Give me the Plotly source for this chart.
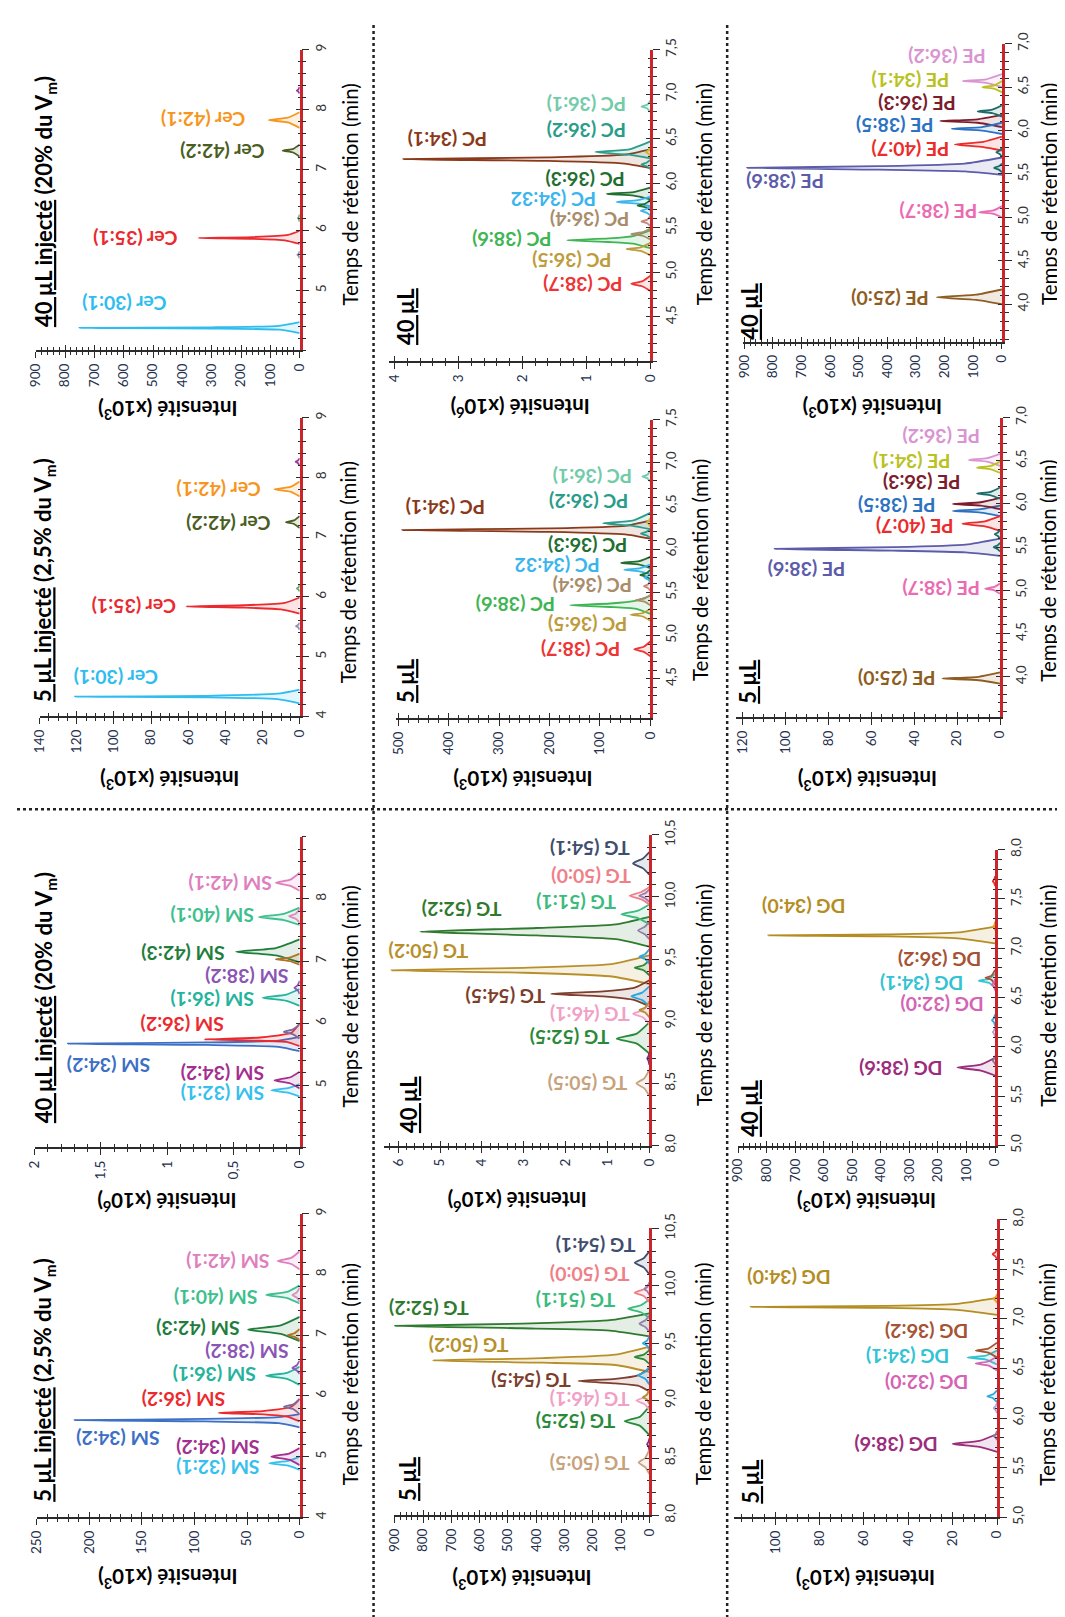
import plotly.graph_objects as go

W, H = 1065, 1617
FONT = "Lato"

# ============================ DATA ============================
# Each peak: retention times (min) and intensities; "" = unlabeled minor peak

# ---- Cer, 40 µL (x10^3)
CER40_NAMES = ["Cer (30:1)", "Cer (35:1)", "Cer (42:2)", "Cer (42:1)", "", "", ""]
CER40_T = [[4.29, 4.345, 4.365, 4.375, 4.385, 4.41, 4.47], [5.77, 5.83, 5.855, 5.87, 5.885, 5.92, 5.99],
           [7.22, 7.29, 7.32, 7.35, 7.42], [7.70, 7.79, 7.83, 7.87, 7.96], [8.27, 8.30, 8.32, 8.34, 8.38],
           [5.53, 5.57, 5.59, 5.61, 5.65], [6.14, 6.18, 6.20, 6.22, 6.26]]
CER40_I = [[0, 70, 300, 751, 300, 70, 0], [0, 50, 160, 345, 160, 40, 0], [0, 22, 58, 22, 0],
           [0, 40, 106, 40, 0], [0, 4, 10, 4, 0], [0, 3, 8, 3, 0], [0, 2.5, 6, 2.5, 0]]

# ---- Cer, 5 µL (x10^3)
CER5_NAMES = ["Cer (30:1)", "Cer (35:1)", "Cer (42:2)", "Cer (42:1)", "", "", ""]
CER5_T = [[4.22, 4.29, 4.32, 4.33, 4.345, 4.38, 4.45], [5.72, 5.79, 5.82, 5.84, 5.86, 5.90, 5.99],
          [7.15, 7.22, 7.25, 7.28, 7.35], [7.68, 7.76, 7.80, 7.84, 7.93], [8.20, 8.24, 8.26, 8.28, 8.32],
          [5.45, 5.49, 5.51, 5.53, 5.57], [6.09, 6.12, 6.14, 6.16, 6.20]]
CER5_I = [[0, 12, 50, 121, 50, 12, 0], [0, 10, 30, 61, 30, 8, 0], [0, 3, 7.4, 3, 0],
          [0, 5, 13.6, 5, 0], [0, 1, 2.2, 1, 0], [0, 0.8, 2, 0.8, 0], [0, 0.6, 1.5, 0.6, 0]]

# ---- SM, 40 µL (x10^6)
SM40_NAMES = ["SM (32:1)", "SM (34:2)", "SM (34:2)", "SM (36:2)", "", "SM (36:1)", "SM (38:2)", "",
              "SM (42:3)", "", "SM (40:1)", "SM (42:1)"]
SM40_T = [[4.82, 4.88, 4.92, 4.96, 5.02], [4.95, 5.03, 5.08, 5.13, 5.22],
          [5.55, 5.62, 5.65, 5.67, 5.69, 5.72, 5.78], [5.63, 5.70, 5.72, 5.74, 5.77, 5.85, 6.00],
          [5.75, 5.82, 5.86, 5.90, 5.98], [6.28, 6.36, 6.41, 6.46, 6.55], [6.47, 6.53, 6.57, 6.61, 6.68],
          [6.94, 7.00, 7.03, 7.06, 7.12], [6.98, 7.09, 7.15, 7.21, 7.35], [7.62, 7.68, 7.72, 7.76, 7.84],
          [7.58, 7.66, 7.71, 7.76, 7.86], [8.13, 8.21, 8.26, 8.31, 8.42]]
SM40_I = [[0, 0.08, 0.215, 0.08, 0], [0, 0.07, 0.19, 0.07, 0], [0, 0.16, 0.7, 1.75, 0.7, 0.16, 0],
          [0, 0.1, 0.35, 0.72, 0.3, 0.06, 0], [0, 0.05, 0.12, 0.05, 0], [0, 0.1, 0.28, 0.1, 0],
          [0, 0.015, 0.04, 0.015, 0], [0, 0.07, 0.18, 0.07, 0], [0, 0.18, 0.48, 0.18, 0],
          [0, 0.03, 0.08, 0.03, 0], [0, 0.12, 0.31, 0.12, 0], [0, 0.07, 0.18, 0.07, 0]]

# ---- SM, 5 µL (x10^3)
SM5_NAMES = SM40_NAMES
SM5_T = [[4.78, 4.85, 4.89, 4.93, 5.00], [4.86, 4.95, 5.00, 5.05, 5.14],
         [5.48, 5.55, 5.58, 5.60, 5.62, 5.65, 5.70], [5.58, 5.66, 5.70, 5.72, 5.75, 5.82, 5.95],
         [5.70, 5.78, 5.82, 5.86, 5.95], [6.18, 6.28, 6.33, 6.38, 6.48], [6.36, 6.42, 6.46, 6.50, 6.58],
         [6.92, 6.97, 7.00, 7.03, 7.10], [6.90, 7.02, 7.09, 7.16, 7.30], [7.55, 7.62, 7.66, 7.70, 7.78],
         [7.52, 7.61, 7.66, 7.71, 7.82], [8.08, 8.17, 8.22, 8.27, 8.38]]
SM5_I = [[0, 11, 29, 11, 0], [0, 10, 27, 10, 0], [0, 20, 90, 214, 90, 20, 0], [0, 12, 40, 77, 35, 8, 0],
         [0, 6, 15, 6, 0], [0, 12, 32, 12, 0], [0, 3, 7, 3, 0], [0, 5, 11.5, 5, 0], [0, 18, 49, 18, 0],
         [0, 3, 7, 3, 0], [0, 12, 32, 12, 0], [0, 8, 21, 8, 0]]

# ---- PC, 40 µL (x10^6)
PC40_NAMES = ["PC (38:7)", "PC (36:5)", "PC (38:6)", "PC (36:4)", "", "PC (34:32", "", "PC (36:3)", "",
              "PC (34:1)", "PC (36:2)", "", "", "PC (36:1)"]
PC40_T = [[4.79, 4.84, 4.87, 4.90, 4.96], [5.19, 5.24, 5.26, 5.28, 5.33],
          [5.27, 5.32, 5.34, 5.36, 5.38, 5.41, 5.47], [5.37, 5.41, 5.43, 5.45, 5.49],
          [5.52, 5.55, 5.57, 5.59, 5.63], [5.74, 5.77, 5.79, 5.81, 5.85], [5.64, 5.67, 5.69, 5.71, 5.74],
          [5.82, 5.86, 5.88, 5.90, 5.95], [5.70, 5.73, 5.75, 5.77, 5.81],
          [6.17, 6.22, 6.25, 6.27, 6.29, 6.32, 6.38], [6.28, 6.32, 6.35, 6.38, 6.47],
          [6.16, 6.19, 6.21, 6.23, 6.26], [6.31, 6.33, 6.35, 6.37, 6.40], [6.80, 6.84, 6.86, 6.88, 6.93]]
PC40_I = [[0, 0.12, 0.30, 0.12, 0], [0, 0.15, 0.375, 0.15, 0], [0, 0.25, 0.65, 1.30, 0.65, 0.25, 0],
          [0, 0.12, 0.30, 0.12, 0], [0, 0.05, 0.14, 0.05, 0], [0, 0.2, 0.53, 0.2, 0],
          [0, 0.06, 0.15, 0.06, 0], [0, 0.26, 0.68, 0.26, 0], [0, 0.08, 0.2, 0.08, 0],
          [0, 0.4, 1.6, 3.86, 1.6, 0.4, 0], [0, 0.33, 0.86, 0.33, 0], [0, 0.06, 0.14, 0.06, 0],
          [0, 0.03, 0.07, 0.03, 0], [0, 0.05, 0.14, 0.05, 0]]

# ---- PC, 5 µL (x10^3)
PC5_NAMES = PC40_NAMES
PC5_T = [[4.76, 4.81, 4.84, 4.87, 4.93], [5.17, 5.22, 5.24, 5.26, 5.31],
         [5.25, 5.31, 5.33, 5.35, 5.37, 5.40, 5.46], [5.35, 5.39, 5.41, 5.43, 5.47],
         [5.52, 5.55, 5.57, 5.59, 5.63], [5.71, 5.74, 5.76, 5.78, 5.82], [5.62, 5.65, 5.67, 5.69, 5.72],
         [5.78, 5.82, 5.84, 5.86, 5.91], [5.65, 5.68, 5.70, 5.72, 5.76],
         [6.12, 6.17, 6.20, 6.22, 6.24, 6.27, 6.33], [6.23, 6.27, 6.30, 6.33, 6.42],
         [6.13, 6.16, 6.18, 6.20, 6.23], [6.26, 6.29, 6.31, 6.33, 6.36], [6.78, 6.82, 6.84, 6.86, 6.91]]
PC5_I = [[0, 13, 32, 13, 0], [0, 15, 39, 15, 0], [0, 30, 80, 159, 80, 30, 0], [0, 11, 29, 11, 0],
         [0, 5, 13, 5, 0], [0, 20, 52, 20, 0], [0, 5, 12, 5, 0], [0, 22, 58, 22, 0], [0, 8, 20, 8, 0],
         [0, 50, 200, 492, 200, 50, 0], [0, 35, 94, 35, 0], [0, 8, 19, 8, 0], [0, 3, 7, 3, 0],
         [0, 6, 16, 6, 0]]

# ---- TG, 40 µL (x10^6)
TG40_NAMES = ["TG (50:5)", "", "TG (52:5)", "TG (46:1)", "", "TG (54:5)", "", "TG (50:2)", "", "",
              "TG (52:2)", "", "TG (51:1)", "TG (50:0)", "", "TG (54:1)"]
TG40_T = [[8.40, 8.46, 8.50, 8.54, 8.61], [8.65, 8.68, 8.70, 8.72, 8.75], [8.74, 8.82, 8.86, 8.90, 8.99],
          [8.98, 9.03, 9.06, 9.09, 9.14], [9.03, 9.07, 9.09, 9.11, 9.16],
          [9.12, 9.17, 9.20, 9.22, 9.24, 9.27, 9.33], [9.12, 9.17, 9.20, 9.23, 9.28],
          [9.30, 9.36, 9.39, 9.41, 9.43, 9.46, 9.53], [9.37, 9.41, 9.43, 9.45, 9.49],
          [9.46, 9.50, 9.52, 9.54, 9.58], [9.60, 9.66, 9.69, 9.72, 9.75, 9.78, 9.84],
          [9.66, 9.70, 9.73, 9.76, 9.80], [9.78, 9.83, 9.86, 9.89, 9.94], [9.94, 9.98, 10.01, 10.04, 10.08],
          [9.96, 9.99, 10.01, 10.03, 10.06], [10.18, 10.23, 10.27, 10.31, 10.36]]
TG40_I = [[0, 0.12, 0.31, 0.12, 0], [0, 0.02, 0.05, 0.02, 0], [0, 0.3, 0.78, 0.3, 0],
          [0, 0.15, 0.39, 0.15, 0], [0, 0.1, 0.24, 0.1, 0], [0, 0.35, 1.1, 2.35, 1.1, 0.35, 0],
          [0, 0.17, 0.43, 0.17, 0], [0, 0.9, 3.0, 6.16, 3.0, 0.9, 0], [0, 0.14, 0.35, 0.14, 0],
          [0, 0.1, 0.24, 0.1, 0], [0, 0.8, 2.7, 5.47, 2.7, 0.8, 0], [0, 0.11, 0.27, 0.11, 0],
          [0, 0.27, 0.67, 0.27, 0], [0, 0.19, 0.47, 0.19, 0], [0, 0.1, 0.24, 0.1, 0],
          [0, 0.15, 0.39, 0.15, 0]]

# ---- TG, 5 µL (x10^3)
TG5_NAMES = TG40_NAMES
TG5_T = [[8.36, 8.42, 8.46, 8.50, 8.57], [8.57, 8.60, 8.62, 8.64, 8.67], [8.70, 8.78, 8.82, 8.86, 8.95],
         [8.92, 8.97, 9.00, 9.03, 9.08], [8.97, 9.01, 9.03, 9.05, 9.10],
         [9.08, 9.13, 9.15, 9.17, 9.19, 9.22, 9.28], [9.14, 9.19, 9.22, 9.25, 9.30],
         [9.25, 9.31, 9.33, 9.35, 9.37, 9.40, 9.47], [9.32, 9.36, 9.38, 9.40, 9.44],
         [9.44, 9.48, 9.50, 9.52, 9.56], [9.56, 9.61, 9.63, 9.65, 9.67, 9.70, 9.76],
         [9.60, 9.64, 9.67, 9.70, 9.74], [9.72, 9.77, 9.80, 9.83, 9.88], [9.86, 9.91, 9.94, 9.97, 10.02],
         [9.92, 9.95, 9.97, 9.99, 10.03], [10.10, 10.16, 10.20, 10.24, 10.30]]
TG5_I = [[0, 15, 38, 15, 0], [0, 3, 8, 3, 0], [0, 33, 87, 33, 0], [0, 18, 46, 18, 0], [0, 9, 23, 9, 0],
         [0, 40, 120, 251, 120, 40, 0], [0, 15, 40, 15, 0], [0, 120, 380, 765, 380, 120, 0],
         [0, 20, 52, 20, 0], [0, 9, 23, 9, 0], [0, 140, 450, 900, 450, 140, 0], [0, 14, 35, 14, 0],
         [0, 30, 75, 30, 0], [0, 20, 52, 20, 0], [0, 7, 17, 7, 0], [0, 20, 52, 20, 0]]

# ---- PE, 40 µL (x10^3)
PE40_NAMES = ["PE (25:0)", "PE (38:7)", "PE (38:6)", "", "", "PE (40:7)", "PE (38:5)", "PE (36:3)", "",
              "PE (34:1)", "PE (36:2)"]
PE40_T = [[4.00, 4.05, 4.08, 4.11, 4.17], [5.00, 5.04, 5.06, 5.08, 5.13],
          [5.49, 5.53, 5.55, 5.57, 5.59, 5.62, 5.69], [5.52, 5.55, 5.57, 5.59, 5.62],
          [5.70, 5.73, 5.75, 5.77, 5.80], [5.77, 5.81, 5.84, 5.87, 5.93], [5.96, 6.00, 6.02, 6.04, 6.09],
          [6.04, 6.09, 6.11, 6.13, 6.18], [6.16, 6.20, 6.22, 6.24, 6.29], [6.44, 6.48, 6.50, 6.52, 6.57],
          [6.50, 6.55, 6.57, 6.59, 6.65]]
PE40_I = [[0, 90, 228, 90, 0], [0, 30, 80, 30, 0], [0, 130, 430, 890, 430, 130, 0], [0, 11, 28, 11, 0],
          [0, 8, 20, 8, 0], [0, 65, 165, 65, 0], [0, 70, 176, 70, 0], [0, 85, 216, 85, 0],
          [0, 34, 85, 34, 0], [0, 27, 68, 27, 0], [0, 55, 137, 55, 0]]

# ---- PE, 5 µL (x10^3)
PE5_NAMES = PE40_NAMES
PE5_T = [[3.92, 3.96, 3.98, 4.00, 4.05], [4.96, 5.00, 5.02, 5.04, 5.08],
         [5.40, 5.44, 5.46, 5.48, 5.50, 5.53, 5.60], [5.45, 5.48, 5.50, 5.52, 5.55],
         [5.60, 5.63, 5.65, 5.67, 5.70], [5.69, 5.74, 5.77, 5.80, 5.86], [5.86, 5.90, 5.92, 5.94, 5.98],
         [5.94, 5.98, 6.00, 6.02, 6.07], [6.06, 6.10, 6.12, 6.14, 6.19], [6.36, 6.40, 6.42, 6.44, 6.49],
         [6.44, 6.49, 6.51, 6.53, 6.58]]
PE5_I = [[0, 10, 26.8, 10, 0], [0, 2.7, 6.9, 2.7, 0], [0, 16, 50, 105, 50, 16, 0], [0, 1.2, 3, 1.2, 0],
         [0, 1, 2.5, 1, 0], [0, 7, 17.6, 7, 0], [0, 9, 22, 9, 0], [0, 9, 22, 9, 0],
         [0, 4.3, 10.7, 4.3, 0], [0, 4.3, 10.7, 4.3, 0], [0, 6, 14.5, 6, 0]]

# ---- DG, 40 µL (x10^3)
DG40_NAMES = ["DG (38:6)", "", "", "", "DG (32:0)", "DG (34:1)", "DG (36:2)", "DG (34:0)", "", ""]
DG40_T = [[5.71, 5.76, 5.79, 5.82, 5.89], [5.82, 5.84, 5.86, 5.88, 5.91], [6.10, 6.13, 6.15, 6.17, 6.21],
          [6.21, 6.25, 6.27, 6.29, 6.33], [6.57, 6.61, 6.63, 6.65, 6.69], [6.60, 6.65, 6.67, 6.69, 6.74],
          [6.63, 6.68, 6.70, 6.72, 6.78], [7.05, 7.10, 7.12, 7.13, 7.14, 7.16, 7.22],
          [7.63, 7.66, 7.68, 7.70, 7.73], [7.18, 7.20, 7.22, 7.24, 7.27]]
DG40_I = [[0, 50, 132, 50, 0], [0, 3, 8, 3, 0], [0, 3, 8, 3, 0], [0, 4, 11, 4, 0], [0, 4, 11, 4, 0],
          [0, 22, 57, 22, 0], [0, 13, 34, 13, 0], [0, 130, 380, 794, 380, 130, 0], [0, 3, 8, 3, 0],
          [0, 2, 6, 2, 0]]

# ---- DG, 5 µL (x10^3)
DG5_NAMES = DG40_NAMES
DG5_T = [[5.66, 5.71, 5.74, 5.77, 5.84], [5.78, 5.80, 5.82, 5.84, 5.87], [6.05, 6.08, 6.10, 6.12, 6.16],
         [6.16, 6.20, 6.22, 6.24, 6.28], [6.48, 6.53, 6.55, 6.57, 6.62], [6.54, 6.59, 6.61, 6.63, 6.68],
         [6.61, 6.66, 6.68, 6.70, 6.76], [7.04, 7.09, 7.11, 7.12, 7.13, 7.15, 7.21],
         [7.60, 7.63, 7.65, 7.67, 7.70], [7.16, 7.18, 7.20, 7.22, 7.25]]
DG5_I = [[0, 8, 20, 8, 0], [0, 0.6, 1.5, 0.6, 0], [0, 0.6, 1.5, 0.6, 0], [0, 1.8, 4.4, 1.8, 0],
         [0, 4, 9.6, 4, 0], [0, 5, 13.3, 5, 0], [0, 4, 9.6, 4, 0], [0, 18, 50, 111, 50, 18, 0],
         [0, 0.8, 2, 0.8, 0], [0, 0.6, 1.5, 0.6, 0]]

# ---- axis ranges and tick labels
RANGES = {  # (intensity max, t min, t max)
    "CER40": (900, 4.0, 9.0), "CER5": (140, 4.0, 9.0), "SM40": (2, 4.0, 9.0), "SM5": (250, 4.0, 9.0),
    "PC40": (4.08, 4.0, 7.5), "PC5": (504, 4.04, 7.5), "TG40": (6.33, 8.0, 10.5), "TG5": (902, 8.0, 10.5),
    "PE40": (905, 3.57, 7.0), "PE5": (123, 3.53, 7.0), "DG40": (900, 5.0, 8.0), "DG5": (118.5, 5.0, 8.0),
}
I900 = ([0, 100, 200, 300, 400, 500, 600, 700, 800, 900],
        ["0", "100", "200", "300", "400", "500", "600", "700", "800", "900"])
ITICKS = {
    "CER40": I900,
    "CER5": ([0, 20, 40, 60, 80, 100, 120, 140], ["0", "20", "40", "60", "80", "100", "120", "140"]),
    "SM40": ([0, 0.5, 1, 1.5, 2], ["0", "0,5", "1", "1,5", "2"]),
    "SM5": ([0, 50, 100, 150, 200, 250], ["0", "50", "100", "150", "200", "250"]),
    "PC40": ([0, 1, 2, 3, 4], ["0", "1", "2", "3", "4"]),
    "PC5": ([0, 100, 200, 300, 400, 500], ["0", "100", "200", "300", "400", "500"]),
    "TG40": ([0, 1, 2, 3, 4, 5, 6], ["0", "1", "2", "3", "4", "5", "6"]),
    "TG5": I900, "PE40": I900,
    "PE5": ([0, 20, 40, 60, 80, 100, 120], ["0", "20", "40", "60", "80", "100", "120"]),
    "DG40": I900,
    "DG5": ([0, 20, 40, 60, 80, 100], ["0", "20", "40", "60", "80", "100"]),
}
TTICKS = {
    "CER40": ([5, 6, 7, 8, 9], ["5", "6", "7", "8", "9"]),
    "CER5": ([4, 5, 6, 7, 8, 9], ["4", "5", "6", "7", "8", "9"]),
    "SM40": ([5, 6, 7, 8], ["5", "6", "7", "8"]),
    "SM5": ([4, 5, 6, 7, 8, 9], ["4", "5", "6", "7", "8", "9"]),
    "PC40": ([4.5, 5, 5.5, 6, 6.5, 7, 7.5], ["4,5", "5,0", "5,5", "6,0", "6,5", "7,0", "7,5"]),
    "PC5": ([4.5, 5, 5.5, 6, 6.5, 7, 7.5], ["4,5", "5,0", "5,5", "6,0", "6,5", "7,0", "7,5"]),
    "TG40": ([8, 8.5, 9, 9.5, 10, 10.5], ["8,0", "8,5", "9,0", "9,5", "10,0", "10,5"]),
    "TG5": ([8, 8.5, 9, 9.5, 10, 10.5], ["8,0", "8,5", "9,0", "9,5", "10,0", "10,5"]),
    "PE40": ([4, 4.5, 5, 5.5, 6, 6.5, 7], ["4,0", "4,5", "5,0", "5,5", "6,0", "6,5", "7,0"]),
    "PE5": ([4, 4.5, 5, 5.5, 6, 6.5, 7], ["4,0", "4,5", "5,0", "5,5", "6,0", "6,5", "7,0"]),
    "DG40": ([5, 5.5, 6, 6.5, 7, 7.5, 8], ["5,0", "5,5", "6,0", "6,5", "7,0", "7,5", "8,0"]),
    "DG5": ([5, 5.5, 6, 6.5, 7, 7.5, 8], ["5,0", "5,5", "6,0", "6,5", "7,0", "7,5", "8,0"]),
}
UNITS = {"CER40": "3", "CER5": "3", "SM40": "6", "SM5": "3", "PC40": "6", "PC5": "3",
         "TG40": "6", "TG5": "3", "PE40": "3", "PE5": "3", "DG40": "3", "DG5": "3"}
TITLES = {
    "CER40": "<u>40 µL injecté</u> (20% du V<sub>m</sub>)", "CER5": "<u>5 µL injecté</u> (2,5% du V<sub>m</sub>)",
    "SM40": "<u>40 µL injecté</u> (20% du V<sub>m</sub>)", "SM5": "<u>5 µL injecté</u> (2,5% du V<sub>m</sub>)",
    "PC40": "<u>40 µL</u>", "PC5": "<u>5 µL</u>", "TG40": "<u>40 µL</u>", "TG5": "<u>5 µL</u>",
    "PE40": "<u>40 µL</u>", "PE5": "<u>5 µL</u>", "DG40": "<u>40 µL</u>", "DG5": "<u>5 µL</u>",
}

# ============================ STYLE / PLACEMENT ============================
SM_COL = ['#36c0ee', '#a3308f', '#3d6fc5', '#ec2a2e', '#7d6a9c', '#24b39c', '#8b55b5', '#b07328',
          '#1f7e3c', '#e08ac0', '#3ec08e', '#e07fbd']
CER_COL = ['#2fbdef', '#ea2a2f', '#4b5e22', '#f7961e', '#9b3a9b', '#9090b0', '#6aaa6a']
PC_COL = ['#ee3434', '#bd9c3c', '#3fb554', '#a98c6a', '#c8887a', '#3bb5ec', '#3bb5ec', '#1f6f31',
          '#1f6f31', '#8a3a1a', '#2a9c8a', '#2a9c8a', '#d4b32e', '#72cba9']
TG_COL = ['#c8a27c', '#7b2d8b', '#2a8a3a', '#f2a0c6', '#b5922f', '#7d3e2c', '#2aa6e0', '#b8902a',
          '#2a8a3a', '#2aa6e0', '#2f7a2f', '#8f80ad', '#3bbb7d', '#ef8088', '#9c7cb2', '#3f4e6e']
PE_COL = ['#8d5d22', '#eb6bb3', '#5c5caa', '#1d6c6c', '#1d6c6c', '#ec2b2b', '#2c72c2', '#7c1c2c',
          '#1d6c6c', '#b9c222', '#da94d2']
DG_COL = ['#9c2c7c', '#8a7a9a', '#b0a4d4', '#30a8e0', '#d464b4', '#33c3d3', '#a55333', '#b38d22',
          '#ee3030', '#f0a020']

# label anchor (time, intensity) of the screen-right edge of each label
LABEL_AT = {
    "CER40": [(4.77, 448), (5.87, 409), (7.31, 114), (7.83, 179), None, None, None],
    "CER5": [(4.66, 75.5), (5.83, 65.8), (7.24, 14.5), (7.80, 19.8), None, None, None],
    "SM40": [(4.87, 0.25), (5.19, 0.25), (5.33, 1.11), (5.98, 0.56), None, (6.38, 0.33), (6.74, 0.067),
             None, (7.12, 0.55), None, (7.73, 0.33), (8.24, 0.19)],
    "SM5": [(4.81, 36.5), (5.16, 36.5), (5.30, 131.5), (5.95, 69), None, (6.36, 39.6), (6.74, 8.4),
            None, (7.11, 55), None, (7.63, 38), (8.22, 27)],
    "PC40": [(4.87, 0.40), (5.14, 0.58), (5.36, 1.51), (5.59, 0.30), None, (5.81, 0.81), None,
             (6.05, 0.375), None, (6.49, 2.53), (6.60, 0.35), None, None, (6.89, 0.35)],
    "PC5": [(4.84, 55), (5.13, 42), (5.36, 185), (5.58, 32.5), None, (5.81, 97), None, (6.04, 42), None,
            (6.49, 325), (6.55, 39), None, None, (6.84, 32.5)],
    "TG40": [(8.50, 0.47), None, (8.87, 0.90), (9.05, 0.43), None, (9.20, 2.43), None, (9.56, 4.27),
             None, None, (9.90, 3.49), None, (9.96, 0.75), (10.16, 0.39), None, (10.39, 0.43)],
    "TG5": [(8.45, 64), None, (8.82, 112), (9.01, 64), None, (9.17, 272), None, (9.48, 492), None, None,
            (9.80, 631), None, (9.87, 112), (10.10, 64), None, (10.35, 43)],
    "PE40": [(4.06, 250), (5.06, 80), (5.42, 615), None, None, (5.78, 176), (6.06, 233), (6.31, 154),
             None, (6.57, 176), (6.86, 51)],
    "PE5": [(3.98, 29), (5.02, 8.4), (5.25, 71), None, None, (5.74, 20.6), (5.99, 29), (6.25, 17.6),
            None, (6.50, 22), (6.78, 8.4)],
    "DG40": [(5.78, 178), None, None, None, (6.43, 34), (6.65, 103), (6.88, 40), (7.43, 516), None, None],
    "DG5": [(5.74, 26), None, None, None, (6.36, 11.9), (6.62, 20.7), (6.87, 11.9), (7.41, 74), None, None],
}

# panel frame in pixels: intensity-max x, zero x, t-min y, t-max y
GEOM = {
    "CER40": (19, 287, 332, 27), "CER5": (23, 287, 703, 400),
    "SM40": (18, 287, 1140, 825), "SM5": (20, 287, 1515, 1207),
    "PC40": (378, 643, 343, 27), "PC5": (385, 643, 705, 402),
    "TG40": (373, 642, 1138, 823), "TG5": (383, 642, 1513, 1222),
    "PE40": (737, 1000, 323, 21), "PE5": (730, 998, 704, 400),
    "DG40": (732, 993, 1138, 838), "DG5": (728, 995, 1515, 1213),
}
MINOR = {"CER40": (20, 0.2), "CER5": (5, 0.2), "SM40": (0.1, 0.2), "SM5": (10, 0.2),
         "PC40": (0.2, 0.1), "PC5": (20, 0.1), "TG40": (0.2, 0.1), "TG5": (20, 0.1),
         "PE40": (20, 0.1), "PE5": (5, 0.1), "DG40": (20, 0.1), "DG5": (5, 0.1)}
TITLE_AT = {"CER40": (28, 181), "CER5": (28, 565), "SM40": (28, 988), "SM5": (28, 1376),
            "PC40": (395, 298), "PC5": (395, 667), "TG40": (397, 1097), "TG5": (397, 1476),
            "PE40": (743, 292), "PE5": (742, 667), "DG40": (743, 1100), "DG5": (745, 1478)}
TAXIS_AT = {"CER40": (338, 174), "CER5": (336, 557), "SM40": (338, 987), "SM5": (338, 1370),
            "PC40": (697, 174), "PC5": (694, 555), "TG40": (697, 986), "TG5": (697, 1370),
            "PE40": (1047, 173), "PE5": (1047, 555), "DG40": (1046, 986), "DG5": (1046, 1370)}
IAXIS_Y = {"CER40": 392, "CER5": 767, "SM40": 1195, "SM5": 1577, "PC40": 390, "PC5": 767,
           "TG40": 1194, "TG5": 1578, "PE40": 390, "PE5": 768, "DG40": 1195, "DG5": 1578}

PANELS = [
    ("CER40", CER40_NAMES, CER40_T, CER40_I, CER_COL), ("CER5", CER5_NAMES, CER5_T, CER5_I, CER_COL),
    ("SM40", SM40_NAMES, SM40_T, SM40_I, SM_COL), ("SM5", SM5_NAMES, SM5_T, SM5_I, SM_COL),
    ("PC40", PC40_NAMES, PC40_T, PC40_I, PC_COL), ("PC5", PC5_NAMES, PC5_T, PC5_I, PC_COL),
    ("TG40", TG40_NAMES, TG40_T, TG40_I, TG_COL), ("TG5", TG5_NAMES, TG5_T, TG5_I, TG_COL),
    ("PE40", PE40_NAMES, PE40_T, PE40_I, PE_COL), ("PE5", PE5_NAMES, PE5_T, PE5_I, PE_COL),
    ("DG40", DG40_NAMES, DG40_T, DG40_I, DG_COL), ("DG5", DG5_NAMES, DG5_T, DG5_I, DG_COL),
]


def rgba(hex_color, a):
    h = hex_color.lstrip('#')
    return f"rgba({int(h[0:2], 16)},{int(h[2:4], 16)},{int(h[4:6], 16)},{a})"


fig = go.Figure()
layout = {}
annotations = []
AX = '#2b2b2b'
NP = len(PANELS)

for k, (key, names, ts, ins, cols) in enumerate(PANELS, start=1):
    sfx = "" if k == 1 else str(k)
    xref, yref = "x" + sfx, "y" + sfx
    osfx = str(k + NP)
    oxref, oyref = "x" + osfx, "y" + osfx
    xl, xz, yb, yt = GEOM[key]
    imax, tmin, tmax = RANGES[key]
    idt, tdt = MINOR[key]

    order = sorted(range(len(names)), key=lambda j: -max(ins[j]))
    for j in order:
        c = cols[j]
        fig.add_trace(go.Scatter(
            x=ins[j], y=ts[j], xaxis=xref, yaxis=yref, mode="lines",
            line=dict(color=c, width=1.8, shape="spline", smoothing=0.5),
            fill="tozerox", fillcolor=rgba(c, 0.13), hoverinfo="skip", showlegend=False))
        if names[j] and LABEL_AT[key][j] is not None:
            lt, li = LABEL_AT[key][j]
            annotations.append(dict(
                x=li, y=lt, xref=xref, yref=yref, text="<b>" + names[j] + "</b>", showarrow=False,
                textangle=180, xanchor="right", yanchor="middle",
                font=dict(family=FONT, size=19.5, color=c)))
    # empty trace on an overlay subplot that carries the inner half of the crossing ticks
    fig.add_trace(go.Scatter(x=[], y=[], xaxis=oxref, yaxis=oyref, showlegend=False, hoverinfo="skip"))

    tv, tt = ITICKS[key]
    common_x = dict(range=[imax, 0], tickmode="array", tickvals=tv, showgrid=False, zeroline=False,
                    fixedrange=True, tickcolor=AX)
    layout["xaxis" + sfx] = dict(
        domain=[xl / W, xz / W], anchor=yref, ticktext=tt,
        tickangle=-90, ticks="outside", ticklen=6, tickwidth=1.3, showline=True,
        linecolor=AX, linewidth=1.6,
        tickfont=dict(family=FONT, size=13.5, color="#25304e"),
        minor=dict(tickmode="linear", tick0=0, dtick=idt, ticks="outside", ticklen=3, tickwidth=1,
                   tickcolor=AX), **common_x)
    layout["xaxis" + osfx] = dict(
        domain=[xl / W, xz / W], anchor=oyref, overlaying=xref, ticks="inside", ticklen=5, tickwidth=1.3,
        showticklabels=False, showline=False,
        minor=dict(tickmode="linear", tick0=0, dtick=idt, ticks="inside", ticklen=3, tickwidth=1,
                   tickcolor=AX), **common_x)
    tv, tt = TTICKS[key]
    common_y = dict(range=[tmin, tmax], tickmode="array", tickvals=tv, showgrid=False, zeroline=False,
                    fixedrange=True, tickcolor=AX)
    layout["yaxis" + sfx] = dict(
        domain=[1 - yb / H, 1 - yt / H], anchor=xref, side="right", ticktext=tt, tickangle=-90,
        ticks="outside", ticklen=7, tickwidth=1.3, showline=True, linecolor="#c9252b", linewidth=2.6,
        tickfont=dict(family=FONT, size=13.5, color="#333333"),
        minor=dict(tickmode="linear", tick0=0, dtick=tdt, ticks="outside", ticklen=4, tickwidth=1,
                   tickcolor=AX), **common_y)
    layout["yaxis" + osfx] = dict(
        domain=[1 - yb / H, 1 - yt / H], anchor=oxref, overlaying=yref, side="right", ticks="inside",
        ticklen=4, tickwidth=1.3, showticklabels=False, showline=False,
        minor=dict(tickmode="linear", tick0=0, dtick=tdt, ticks="inside", ticklen=2, tickwidth=1,
                   tickcolor=AX), **common_y)

    tx, ty = TITLE_AT[key]
    annotations.append(dict(x=tx / W, y=1 - ty / H, xref="paper", yref="paper", text="<b>" + TITLES[key] + "</b>",
                            showarrow=False, textangle=-90, xanchor="center", yanchor="middle",
                            font=dict(family=FONT, size=22, color="black")))
    ax_, ay_ = TAXIS_AT[key]
    annotations.append(dict(x=ax_ / W, y=1 - ay_ / H, xref="paper", yref="paper",
                            text="Temps de rétention (min)", showarrow=False, textangle=-90,
                            xanchor="center", yanchor="middle",
                            font=dict(family=FONT, size=20.5, color="black")))
    annotations.append(dict(x=(xl + xz) / 2 / W, y=1 - IAXIS_Y[key] / H, xref="paper", yref="paper",
                            text="<b>Intensité (x10<sup>" + UNITS[key] + "</sup>)</b>", showarrow=False,
                            textangle=180, xanchor="center", yanchor="middle",
                            font=dict(family=FONT, size=20.5, color="black")))

shapes = [
    dict(type="line", xref="paper", yref="paper", x0=362 / W, x1=362 / W, y0=0, y1=1,
         line=dict(color="#222", width=2.5, dash="dot")),
    dict(type="line", xref="paper", yref="paper", x0=721 / W, x1=721 / W, y0=0, y1=1,
         line=dict(color="#222", width=2.5, dash="dot")),
    dict(type="line", xref="paper", yref="paper", x0=0, x1=1, y0=1 - 797 / H, y1=1 - 797 / H,
         line=dict(color="#222", width=2.5, dash="dot")),
]

fig.update_layout(width=W, height=H, margin=dict(l=0, r=0, t=0, b=0), paper_bgcolor="white",
                  plot_bgcolor="rgba(0,0,0,0)", showlegend=False, annotations=annotations, shapes=shapes,
                  font=dict(family=FONT), **layout)
fig.write_html("out.html")
